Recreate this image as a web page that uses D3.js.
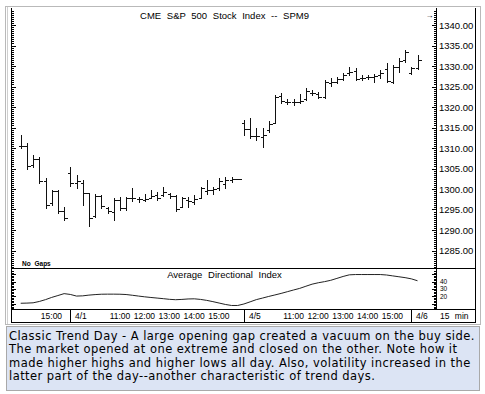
<!DOCTYPE html>
<html>
<head>
<meta charset="utf-8">
<script src="https://cdn.jsdelivr.net/npm/d3@7"></script>
<style>
  body { margin: 0; background: #fff; }
  svg { display: block; font-family: "Liberation Sans", Arial, sans-serif; }
</style>
</head>
<body>
<div id="chart"></div>
<script>
// 15 min bars, 3/31 afternoon through 4/6 open
const opens = [1310.4, 1310.6, 1305.8, 1307.2, 1302.0, 1296.5, 1299.6, 1294.6,
  1304.0, 1301.5, 1301.5, 1299.0, 1293.3, 1298.3, 1295.3, 1294.4, 1297.3, 1295.3, 1297.8, 1297.6,
  1297.4, 1297.9, 1298.5, 1298.6, 1298.8, 1298.3, 1295.7, 1297.4, 1296.9, 1297.9, 1299.6, 1299.8,
  1300.2, 1301.2, 1302.3, 1302.4,
  1316.2, 1314.6, 1312.9, 1312.8, 1314.3, 1316.2, 1322.6, 1321.3, 1321.2, 1321.2, 1321.9, 1323.5,
  1323.2, 1322.5, 1325.8, 1326.0, 1326.9, 1328.3, 1328.8, 1327.1, 1327.2, 1327.2, 1327.8, 1329.3,
  1326.2, 1329.8, 1331.5,
  1328.3, 1329.6];
const highs = [1313.2, 1311.1, 1308.3, 1307.9, 1302.6, 1299.8, 1299.8, 1295.7,
  1305.3, 1303.4, 1302.2, 1299.1, 1298.7, 1298.5, 1295.7, 1297.7, 1298.1, 1298.1, 1300.2, 1298.1,
  1298.9, 1299.8, 1299.3, 1300.4, 1299.1, 1298.5, 1298.1, 1298.1, 1298.5, 1300.6, 1302.2, 1300.6,
  1302.6, 1303.0, 1303.0, 1302.4,
  1316.8, 1317.2, 1314.8, 1314.8, 1316.7, 1322.9, 1323.3, 1321.9, 1321.9, 1323.2, 1324.6, 1324.1,
  1323.7, 1326.6, 1327.0, 1327.4, 1328.4, 1329.8, 1329.4, 1327.8, 1327.8, 1328.0, 1329.0, 1330.7,
  1330.2, 1331.9, 1333.9,
  1329.8, 1332.7];
const lows = [1310.0, 1304.8, 1305.3, 1301.4, 1295.3, 1296.1, 1294.1, 1292.4,
  1300.7, 1300.2, 1296.1, 1291.0, 1293.1, 1295.3, 1294.1, 1292.4, 1294.9, 1294.9, 1297.1, 1296.9,
  1297.0, 1297.7, 1297.3, 1298.4, 1297.7, 1294.6, 1295.5, 1295.7, 1296.3, 1297.7, 1298.9, 1298.9,
  1299.8, 1300.2, 1301.8, 1302.4,
  1313.2, 1312.4, 1312.0, 1310.3, 1314.0, 1316.0, 1320.9, 1320.7, 1320.5, 1320.9, 1321.7, 1322.9,
  1322.1, 1322.3, 1325.1, 1325.8, 1326.6, 1327.8, 1326.6, 1326.6, 1326.8, 1326.2, 1327.0, 1326.2,
  1325.9, 1328.6, 1331.0,
  1328.0, 1329.2];
const closes = [1310.6, 1305.5, 1307.2, 1302.0, 1296.0, 1299.6, 1294.6, 1293.0,
  1301.5, 1302.0, 1299.0, 1292.9, 1298.3, 1295.8, 1294.6, 1297.2, 1295.3, 1297.8, 1297.8, 1297.6,
  1297.6, 1298.4, 1297.8, 1299.2, 1298.3, 1295.1, 1297.8, 1297.0, 1297.6, 1300.3, 1299.8, 1300.0,
  1302.0, 1302.2, 1302.4, 1302.4,
  1314.6, 1312.9, 1312.9, 1313.2, 1315.9, 1322.5, 1321.5, 1321.3, 1321.2, 1321.4, 1324.0, 1323.5,
  1322.5, 1326.0, 1326.2, 1326.9, 1327.8, 1328.6, 1326.9, 1327.1, 1327.2, 1327.6, 1328.4, 1326.4,
  1329.8, 1331.3, 1333.3,
  1329.5, 1331.5];
const adx = [10.6, 10.8, 11.2, 13.0, 15.5, 18.5, 21.0, 23.6,
  22.5, 20.3, 20.6, 21.6, 22.3, 22.8, 22.9, 22.9, 22.8, 22.4, 21.4, 20.3,
  19.3, 18.4, 17.6, 16.8, 15.9, 15.4, 15.8, 16.4, 16.6, 15.8, 14.5, 12.8,
  10.9, 9.0, 7.6, 7.6,
  9.6, 12.5, 15.5, 17.6, 19.8, 21.8, 23.9, 26.2, 28.5, 30.7, 33.6, 36.4,
  38.3, 39.8, 41.6, 44.2, 46.8, 49.0, 49.4, 49.4, 49.4, 49.4, 49.4, 48.8,
  47.6, 46.4, 45.2,
  43.6, 41.0];

const sessions = [["4/1", 8], ["4/5", 36], ["4/6", 63]];
const hourTicks = [[7, "15:00"],
  [18, "11:00"], [22, "12:00"], [26, "13:00"], [30, "14:00"], [34, "15:00"],
  [46, "11:00"], [50, "12:00"], [54, "13:00"], [58, "14:00"], [62, "15:00"]];
const priceTicks = [1285, 1290, 1295, 1300, 1305, 1310, 1315, 1320, 1325, 1330, 1335, 1340];
const adxTicks = [20, 30, 40];
const caption = [
  "Classic Trend Day - A large opening gap created a vacuum on the buy side.",
  "The market opened at one extreme and closed on the other. Note how it",
  "made higher highs and higher lows all day. Also, volatility increased in the",
  "latter part of the day--another characteristic of trend days."
];

const width = 485, height = 394;
const leftX = 11.5, axisX = 436.5, rightX = 475.5;
const topY = 8, priceBot = 268.5, adxBot = 309.5, timeBot = 322.5;

const svg = d3.select("#chart").append("svg")
  .attr("width", width)
  .attr("height", height);

const x = d3.scaleLinear().domain([0, opens.length - 1]).range([20.7, 417.5]);
const y = d3.scaleLinear().domain([1285, 1340]).range([250.5, 25]);
const ya = d3.scaleLinear().domain([20, 40]).range([296.3, 281.5]);
const px = v => Math.round(v) + 0.5;

// frame
svg.append("rect").attr("x", 5.5).attr("y", 6.5).attr("width", 475).attr("height", 318)
  .attr("fill", "#fff").attr("stroke", "#b9b9b9");
svg.append("line").attr("x1", 7.5).attr("x2", 7.5).attr("y1", 7).attr("y2", 324)
  .attr("stroke", "#cfcfcf");

const frame = svg.append("g").attr("stroke", "#000").attr("shape-rendering", "crispEdges");
[[leftX, topY, leftX, timeBot], [rightX, topY, rightX, timeBot], [axisX, topY, axisX, adxBot],
 [leftX, priceBot, rightX, priceBot], [leftX, adxBot, rightX, adxBot], [leftX, timeBot, rightX, timeBot]]
  .forEach(d => frame.append("line").attr("x1", d[0]).attr("y1", d[1]).attr("x2", d[2]).attr("y2", d[3]));

// price axis ticks, both sides
const ticksG = svg.append("g").attr("stroke", "#000").attr("shape-rendering", "crispEdges");
d3.range(1281, 1343.6, 0.5).forEach(v => {
  const major = v % 5 === 0;
  const yy = px(y(v));
  ticksG.append("line").attr("x1", leftX).attr("x2", leftX + (major ? 4 : 2)).attr("y1", yy).attr("y2", yy);
  ticksG.append("line").attr("x1", axisX).attr("x2", axisX - (major ? 5 : 2.5)).attr("y1", yy).attr("y2", yy);
});
d3.range(4, 55, 2).forEach(v => {
  const major = v % 10 === 0;
  const yy = px(ya(v));
  ticksG.append("line").attr("x1", leftX).attr("x2", leftX + (major ? 4 : 2)).attr("y1", yy).attr("y2", yy);
  ticksG.append("line").attr("x1", axisX).attr("x2", axisX - (major ? 5 : 2.5)).attr("y1", yy).attr("y2", yy);
});

svg.append("g").selectAll("text")
  .data(priceTicks)
  .enter().append("text")
  .attr("x", 439)
  .attr("y", d => y(d) + 3.5)
  .style("font-size", "9.5px")
  .text(d => d.toFixed(2));

svg.append("g").selectAll("text")
  .data(adxTicks)
  .enter().append("text")
  .attr("x", 440)
  .attr("y", d => ya(d) + 2.5)
  .style("font-size", "6.5px")
  .text(d => d);

// titles
svg.append("text")
  .attr("x", 224.5).attr("y", 18.5)
  .attr("text-anchor", "middle")
  .style("font-size", "9.5px").style("word-spacing", "3px")
  .text("CME S&P 500 Stock Index -- SPM9");
svg.append("text")
  .attr("x", 224.5).attr("y", 277.5)
  .attr("text-anchor", "middle")
  .style("font-size", "9.5px").style("word-spacing", "3px")
  .text("Average Directional Index");
svg.append("text")
  .attr("x", 425.5).attr("y", 18)
  .style("font-size", "8px")
  .text("\u2192");
svg.append("text")
  .attr("x", 22).attr("y", 266)
  .style("font-size", "6.5px").style("font-weight", "bold").style("word-spacing", "2px")
  .text("No Gaps");

// OHLC bars
const bars = svg.append("g").attr("stroke", "#111").attr("shape-rendering", "crispEdges");
opens.forEach((o, i) => {
  const xx = px(x(i));
  if (highs[i] > lows[i]) {
    bars.append("line").attr("x1", xx).attr("x2", xx).attr("y1", px(y(highs[i])) - 0.5).attr("y2", px(y(lows[i])) + 0.5);
  }
  bars.append("line").attr("x1", xx - 3).attr("x2", xx).attr("y1", px(y(o))).attr("y2", px(y(o)));
  bars.append("line").attr("x1", xx).attr("x2", xx + 3).attr("y1", px(y(closes[i]))).attr("y2", px(y(closes[i])));
});

// ADX line
svg.append("path")
  .datum(adx)
  .attr("fill", "none")
  .attr("stroke", "#222")
  .attr("stroke-width", 1)
  .attr("d", d3.line().x((d, i) => x(i)).y(d => ya(d)));

// time row
const timeG = svg.append("g").style("font-size", "8.5px");
sessions.forEach(([label, i]) => {
  const xx = px(x(i));
  svg.append("line").attr("x1", xx).attr("x2", xx).attr("y1", adxBot).attr("y2", timeBot)
    .attr("stroke", "#000").attr("shape-rendering", "crispEdges");
  timeG.append("text").attr("x", xx + 4.5).attr("y", 319).text(label);
});
hourTicks.forEach(([i, label]) => {
  timeG.append("text").attr("x", x(i) - 2).attr("y", 319).attr("text-anchor", "end").text(label);
});
timeG.append("text").attr("x", 440).attr("y", 319).style("word-spacing", "3px").text("15 min");

// caption
svg.append("rect").attr("x", 6.5).attr("y", 326.5).attr("width", 473).attr("height", 64)
  .attr("fill", "#dce4f4").attr("stroke", "#a9a9a9");
svg.append("g").selectAll("text")
  .data(caption)
  .enter().append("text")
  .attr("x", 9)
  .attr("y", (d, i) => 339.5 + i * 13.5)
  .style("font-family", "'DejaVu Sans', Verdana, sans-serif")
  .style("font-size", "11.5px")
  .style("letter-spacing", "0.45px")
  .text(d => d);
</script>
</body>
</html>
